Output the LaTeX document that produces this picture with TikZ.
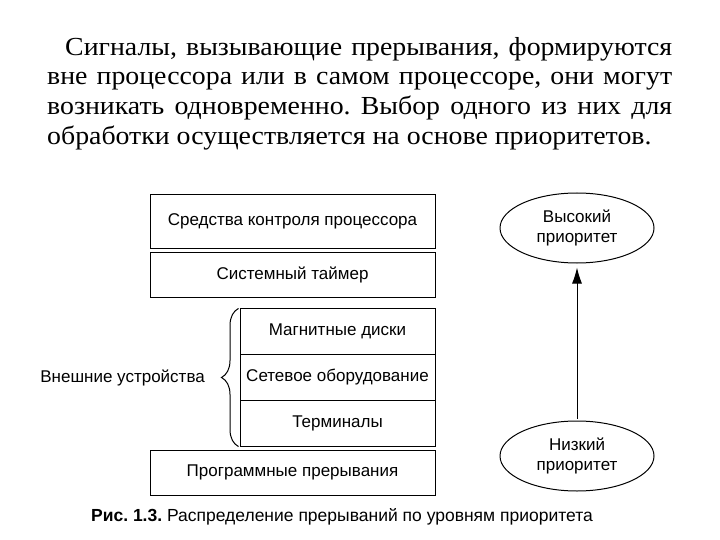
\documentclass[tikz,border=0pt]{standalone}
\usepackage{fontspec}
\setmainfont[FakeStretch=1.07]{Liberation Serif}
\newfontfamily\boxfont{Liberation Sans}
\usetikzlibrary{shapes.geometric,decorations.pathreplacing,arrows.meta}
\frenchspacing

\begin{document}
\begin{tikzpicture}[x=1pt,y=-1pt,
		box/.style={draw,line width=1pt,inner sep=0pt,font=\boxfont\fontsize{17}{20}\selectfont},
		prio/.style={ellipse,draw,line width=1pt,minimum width=154pt,minimum height=70pt,inner sep=0pt,align=center,font=\boxfont\fontsize{17}{20}\selectfont}]
			\useasboundingbox (0,0) rectangle (720,540);
			\node[anchor=north west,inner sep=0pt,text width=625pt,align=justify,font=\fontsize{26}{29.7}\selectfont] (intro) at (47,37) {\hspace*{18pt}Сигналы, вызывающие прерывания, формируются\linebreak вне процессора или в самом процессоре, они могут\linebreak возникать одновременно. Выбор одного из них для\linebreak обработки осуществляется на основе приоритетов.};
			% ступени приоритета
			\node[box,minimum width=285pt,minimum height=53pt] (ctrl) at (292.5,221.5) {Средства контроля процессора};
			\node[box,minimum width=285pt,minimum height=45pt] (timer) at (292.5,274.5) {Системный таймер};
			\node[box,minimum width=195pt,minimum height=45.7pt] (disk) at (337.5,331.8) {Магнитные диски};
			\node[box,minimum width=195pt,minimum height=45.7pt] (net) at (337.5,377.5) {Сетевое оборудование};
			\node[box,minimum width=195pt,minimum height=45.7pt] (term) at (337.5,423.2) {Терминалы};
			\node[box,minimum width=285pt,minimum height=45pt] (soft) at (292.5,472.5) {Программные прерывания};
			\draw[line width=1pt,decorate,decoration={brace,amplitude=17pt}] ([xshift=-1pt]term.south west) -- ([xshift=-1pt]disk.north west);
			\node[anchor=east,inner sep=0pt,font=\boxfont\fontsize{17}{20}\selectfont] (ext) at (205,378) {Внешние устройства};
			% шкала приоритета
			\node[prio] (high) at (577,228) {Высокий\\приоритет};
			\node[prio] (low) at (577,456) {Низкий\\приоритет};
			\draw[line width=1pt,-{Latex[length=16pt,width=10pt]},shorten >=4pt,shorten <=2pt] (low) -- (high);
			\node[font=\boxfont\fontsize{17.5}{20}\selectfont] (cap) at (342,517) {\textbf{Рис. 1.3.} Распределение прерываний по уровням приоритета};
		\end{tikzpicture}
\end{document}
